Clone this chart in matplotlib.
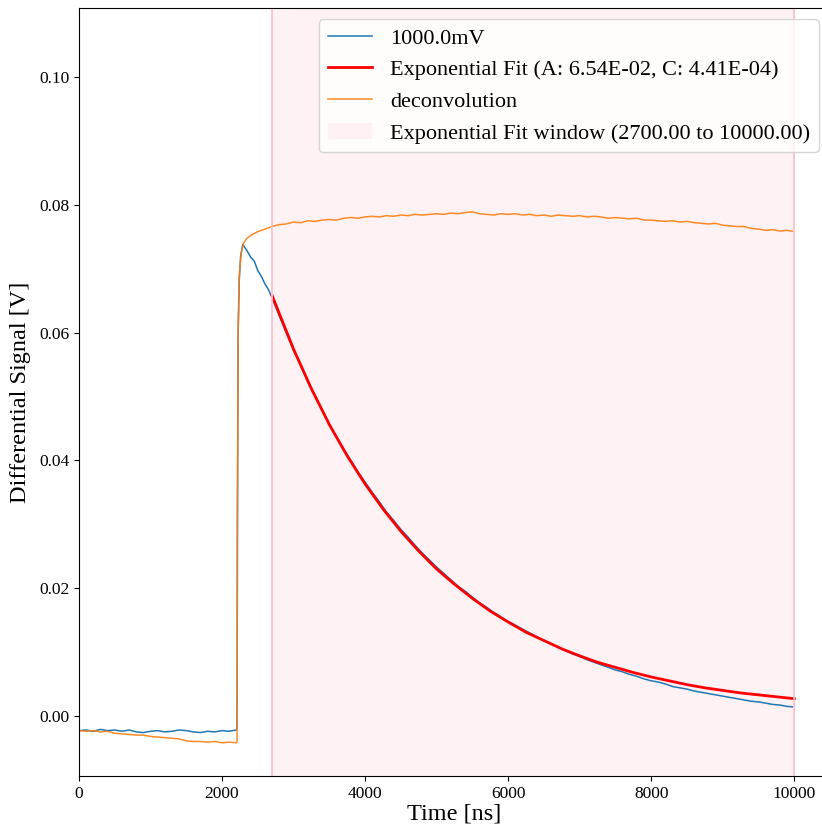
import numpy as np
import matplotlib.pyplot as plt

plt.rcParams['font.family'] = ['Liberation Serif', 'DejaVu Serif']

# --- values ---
# measured trace (1000.0mV)
sig_t = [0, 100, 200, 300, 400, 500, 600, 700, 800, 900, 1000, 1100, 1200, 1300,
         1400, 1500, 1600, 1700, 1800, 1900, 2000, 2100, 2200, 2210, 2215, 2225,
         2240, 2260, 2290, 2350, 2400, 2450, 2500, 2550, 2600, 2650] + list(range(2700, 10001, 100))
sig_v = [-0.0023, -0.0022, -0.0024, -0.0021, -0.0023, -0.0022, -0.0024, -0.0022,
         -0.0025, -0.0026, -0.0024, -0.0023, -0.0025, -0.0024, -0.0022, -0.0023,
         -0.0025, -0.0026, -0.0024, -0.0025, -0.0023, -0.0024, -0.0022, -0.0020,
         0.0300, 0.0600, 0.0680, 0.0720, 0.0738, 0.0728, 0.0718, 0.0712, 0.0697,
         0.0688, 0.0676, 0.0667,
         0.0654, 0.0626, 0.0599, 0.0572, 0.0549, 0.0522, 0.0500, 0.0478, 0.0457, 0.0437,
         0.0418, 0.0400, 0.0382, 0.0366, 0.0350, 0.0335, 0.0319, 0.0306, 0.0292, 0.0280,
         0.0267, 0.0255, 0.0244, 0.0233, 0.0223, 0.0213, 0.0203, 0.0195, 0.0186, 0.0177,
         0.0170, 0.0162, 0.0155, 0.0148, 0.0142, 0.0136, 0.0130, 0.0124, 0.0118, 0.0113,
         0.0108, 0.0102, 0.0097, 0.0093, 0.0088, 0.0084, 0.0080, 0.0076, 0.0072, 0.0069,
         0.0065, 0.0062, 0.0058, 0.0055, 0.0053, 0.0050, 0.0046, 0.0044, 0.0042, 0.0039,
         0.0037, 0.0035, 0.0033, 0.0031, 0.0029, 0.0027, 0.0025, 0.0023, 0.0022, 0.0020,
         0.0018, 0.0017, 0.0015, 0.0014]

# deconvolution trace
dec_t = [0, 100, 200, 300, 400, 500, 600, 700, 800, 900, 1000, 1100, 1200, 1300,
         1400, 1500, 1600, 1700, 1800, 1900, 2000, 2100, 2200, 2210, 2215, 2225,
         2240, 2270, 2300, 2350, 2400, 2500, 2600] + list(range(2700, 10001, 100))
dec_v = [-0.0023, -0.0024, -0.0023, -0.0025, -0.0024, -0.0027, -0.0028, -0.0029,
         -0.0030, -0.0030, -0.0032, -0.0033, -0.0034, -0.0035, -0.0036, -0.0039,
         -0.0040, -0.0040, -0.0041, -0.0040, -0.0042, -0.0041, -0.0042, -0.0040,
         0.0300, 0.0600, 0.0690, 0.0725, 0.0740, 0.0748, 0.0752, 0.0758, 0.0762,
         0.0766, 0.0769, 0.0770, 0.0773, 0.0772, 0.0775, 0.0774, 0.0776, 0.0777, 0.0776,
         0.0779, 0.0780, 0.0779, 0.0781, 0.0782, 0.0781, 0.0783, 0.0782, 0.0784, 0.0783,
         0.0785, 0.0784, 0.0785, 0.0786, 0.0785, 0.0787, 0.0786, 0.0788, 0.0789, 0.0786,
         0.0785, 0.0784, 0.0786, 0.0785, 0.0786, 0.0784, 0.0785, 0.0783, 0.0784, 0.0782,
         0.0784, 0.0783, 0.0782, 0.0783, 0.0781, 0.0782, 0.0781, 0.0779, 0.0780, 0.0779,
         0.0778, 0.0779, 0.0776, 0.0776, 0.0775, 0.0774, 0.0775, 0.0773, 0.0774, 0.0772,
         0.0771, 0.0770, 0.0771, 0.0768, 0.0767, 0.0766, 0.0766, 0.0763, 0.0762, 0.0760,
         0.0761, 0.0759, 0.0760, 0.0758]

# exponential fit curve
fit_t = [2700] + list(range(3000, 10001, 250))
fit_v = [0.0658, 0.0574, 0.0512, 0.0456, 0.0407, 0.0363, 0.0324, 0.0289, 0.0258,
         0.0230, 0.0206, 0.0184, 0.0164, 0.0147, 0.0131, 0.0118, 0.0105, 0.0094,
         0.0084, 0.0076, 0.0068, 0.0061, 0.0055, 0.0049, 0.0044, 0.0040, 0.0036,
         0.0033, 0.0030, 0.0027]

fit_A, fit_C = 6.54e-02, 4.41e-04
win_lo, win_hi = 2700.0, 10000.0

fig = plt.figure(figsize=(8.22, 8.31), dpi=100)
ax = fig.add_axes([79 / 822, 55 / 831, 751 / 822, 768 / 831])

ax.plot(sig_t, sig_v, color='#1f77b4', lw=1.1, label='1000.0mV')
ax.plot(fit_t, fit_v, color='red', lw=2,
        label=f'Exponential Fit (A: {fit_A:.2E}, C: {fit_C:.2E})')
ax.plot(dec_t, dec_v, color='#ff7f0e', lw=1.1, alpha=0.9, label='deconvolution')
ax.axvspan(win_lo, win_hi, color='pink', alpha=0.2, lw=0,
           label=f'Exponential Fit window ({win_lo:.2f} to {win_hi:.2f})')
ax.axvline(win_lo, color='pink', lw=1.3)
ax.axvline(win_hi, color='pink', lw=1.3)

ax.set_xlim(0, 10500)
ax.set_ylim(-0.0094, 0.1108)
ax.spines['right'].set_visible(False)
ax.set_xticks([0, 2000, 4000, 6000, 8000, 10000])
ax.set_yticks([0.0, 0.02, 0.04, 0.06, 0.08, 0.10])
ax.yaxis.set_major_formatter(plt.FormatStrFormatter('%.2f'))
ax.tick_params(labelsize=12.5)
ax.set_xlabel('Time [ns]', fontsize=17.5, labelpad=1)
ax.set_ylabel('Differential Signal [V]', fontsize=17.5, labelpad=6)
ax.legend(loc='upper right', fontsize=16, borderaxespad=0.5)

fig.savefig('out.png', dpi=100)
